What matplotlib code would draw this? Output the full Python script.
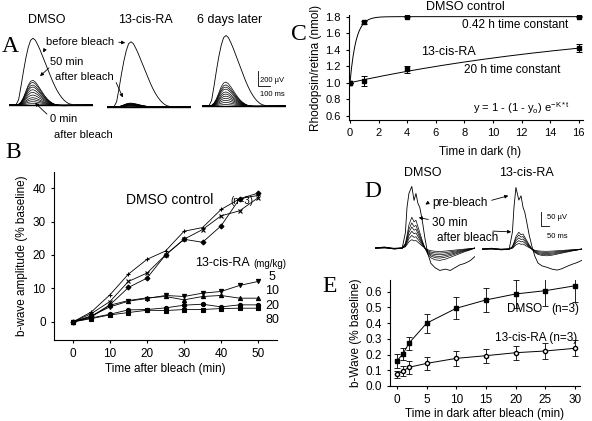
import numpy as np
import matplotlib.pyplot as plt
from matplotlib.patches import FancyArrowPatch

plt.rcParams['font.family'] = ['Liberation Sans', 'DejaVu Sans']
plt.rcParams['mathtext.fontset'] = 'custom'
plt.rcParams['mathtext.rm'] = 'Liberation Sans'
plt.rcParams['mathtext.it'] = 'Liberation Sans'
plt.rcParams['axes.linewidth'] = 0.8
plt.rcParams['xtick.major.width'] = 0.8
plt.rcParams['ytick.major.width'] = 0.8
plt.rcParams['xtick.major.size'] = 2.5
plt.rcParams['ytick.major.size'] = 2.5

W, H = 592, 421

# ---- panel A: ERG traces, time in ms, amplitude in uV
a_t = list(range(0, 701, 20))
a_before_shape = [0, 0, 0, 0.01, 0.08, 0.28, 0.50, 0.70, 0.86, 0.97,
                  1.00, 0.97, 0.90, 0.82, 0.73, 0.64, 0.55, 0.46, 0.37, 0.29,
                  0.22, 0.16, 0.11, 0.07, 0.04, 0.02, 0.01, 0, 0, 0,
                  0, 0, 0, 0, 0, 0]
a_bleach_shape = [0, 0, 0, 0, 0.03, 0.12, 0.30, 0.55, 0.80, 0.96,
                  1.0, 0.93, 0.80, 0.65, 0.50, 0.36, 0.24, 0.15, 0.08, 0.03,
                  0.0, -0.02, -0.03, -0.03, -0.03, -0.02, -0.02, -0.02, -0.01, -0.01,
                  -0.01, -0.01, 0, 0, 0, 0]
a_titles = ['DMSO', '13-cis-RA', '6 days later']
a_before_uv = [890, 870, 940]
a_dmso_pct = [2, 5, 8, 11, 15, 19, 23, 27, 30, 34, 37]
a_cis_pct = [1, 1.5, 2, 2.5, 3, 3.5, 4, 4.5, 5, 5.5, 6]
a_6d_pct = [2, 5, 8, 11, 14, 17, 20, 24, 27, 30, 34]

# ---- panel B: b-wave recovery after bleach
b_time = [0, 5, 10, 15, 20, 25, 30, 35, 40, 45, 50]
b_dmso_plus = [0, 3.0, 8.1, 14.3, 18.7, 21.2, 27.1, 28.2, 33.6, 36.8, 37.8]
b_dmso_x = [0, 2.5, 6.1, 12.1, 14.6, 20.0, 24.7, 27.6, 31.7, 33.2, 37.1]
b_dmso_dia = [0, 1.7, 5.1, 10.3, 13.1, 20.0, 24.7, 23.8, 28.7, 36.8, 38.5]
b_cis5 = [0, 1.8, 4.5, 6.2, 7.0, 7.9, 7.6, 8.6, 9.1, 10.9, 12.1]
b_cis10 = [0, 1.5, 5.0, 6.4, 7.2, 7.6, 6.6, 7.6, 7.9, 7.1, 7.1]
b_cis20 = [0, 1.2, 2.3, 3.6, 3.7, 4.2, 5.0, 5.3, 4.5, 5.1, 5.1]
b_cis80 = [0, 1.0, 2.1, 2.8, 3.5, 3.4, 3.7, 3.7, 4.0, 4.1, 4.1]
b_doses = ['5', '10', '20', '80']

# ---- panel C: rhodopsin regeneration in dark
c_time = [0, 1, 4, 16]
c_dmso = [1.0, 1.73, 1.80, 1.80]
c_dmso_err = [0, 0.015, 0.01, 0.01]
c_cis = [1.0, 1.02, 1.16, 1.42]
c_cis_err = [0, 0.06, 0.045, 0.05]
c_tau_h = [0.42, 20]
c_plateau = [1.80, 1.76]

# ---- panel D: ERG traces (time in ms, amplitude in uV)
d_t = [0, 60, 120, 170, 190, 200, 212, 230, 244, 256, 268, 280, 295,
       312, 330, 350, 375, 405, 440, 470, 500, 530, 560, 595, 625]
d_dmso_pre = [0, 4, -4, 0, 55, 145, 195, 220, 170, 195, 160, 145, 100,
              35, -20, -55, -70, -80, -75, -80, -70, -60, -55, -45, -30]
d_cis_pre = [0, 3, -3, 0, 60, 150, 220, 175, 190, 150, 130, 95, 50,
             10, -25, -50, -60, -65, -72, -75, -70, -62, -55, -48, -40]
d_bleach_shape = [0, 0.02, -0.02, 0, 0.15, 0.40, 0.75, 1.0, 0.85, 0.90, 0.70, 0.50, 0.25,
                  0, -0.2, -0.32, -0.38, -0.40, -0.36, -0.30, -0.24, -0.18, -0.12, -0.06, 0.0]
d_dmso_amp = [30, 45, 60, 75, 90, 110]
d_cis_amp = [20, 30, 40, 50, 60]

# ---- panel E: b-wave recovery (fraction of baseline)
e_time = [0, 1, 2, 5, 10, 15, 20, 25, 30]
e_dmso = [0.16, 0.204, 0.272, 0.40, 0.495, 0.548, 0.586, 0.607, 0.638]
e_dmso_err = [0.045, 0.04, 0.04, 0.06, 0.07, 0.075, 0.09, 0.10, 0.10]
e_cis = [0.074, 0.095, 0.119, 0.144, 0.176, 0.193, 0.212, 0.223, 0.24]
e_cis_err = [0.02, 0.03, 0.04, 0.04, 0.05, 0.045, 0.045, 0.05, 0.05]


def box(left, top, width, height):
    return [left / W, 1 - (top + height) / H, width / W, height / H]


def fpx(x, y):
    return (x / W, 1 - y / H)


fig = plt.figure(figsize=(W / 100, H / 100), dpi=100)


def label(x, y, s, size=8.5, **kw):
    fig.text(*fpx(x, y), s, fontsize=size, ha='center', va='center', **kw)


def arrow(x0, y0, x1, y1):
    fig.add_artist(FancyArrowPatch(fpx(x0, y0), fpx(x1, y1), transform=fig.transFigure,
                                   arrowstyle='-|>', mutation_scale=5, lw=0.6, color='k'))


def letter(x, y, s):
    fig.text(*fpx(x, y), s, fontsize=17, ha='center', va='center', family='Liberation Serif')


# ---- A
a_pct = [a_dmso_pct, a_cis_pct, a_6d_pct]
a_left = [9, 107, 202]
a_base = [105, 107, 106]
for i in range(3):
    ax = fig.add_axes(box(a_left[i], a_base[i] - 75, 84, 85))
    ax.set_xlim(0, 700)
    ax.set_ylim(-133, 1000)
    ax.axis('off')
    shape = np.array(a_before_shape)
    ax.plot(a_t, a_before_uv[i] * shape, color='k', lw=0.6)
    for p in a_pct[i]:
        ax.plot(a_t, a_before_uv[i] * p / 100 * np.array(a_bleach_shape), color='k', lw=0.5)
    ax.plot(a_t, np.zeros(len(a_t)), color='k', lw=1.0)
    if i == 2:
        ax.plot([470, 470, 570], [470, 270, 270], color='k', lw=0.6, clip_on=False)
    label(a_left[i] + 38 if i < 2 else 230, 20, a_titles[i], 9)

label(272, 80, '200 µV', 5.5)
label(272, 94, '100 ms', 5.5)
label(80, 42, 'before bleach', 8)
arrow(116, 42, 128, 43)
arrow(46, 47, 42, 55)
label(67, 62, '50 min', 8)
label(84, 77, 'after bleach', 8)
arrow(51, 66, 38, 78)
arrow(115, 80, 124, 100)
label(64, 119, '0 min', 8)
label(83, 135, 'after bleach', 8)
arrow(49, 116, 33, 101)

# ---- B
ax = fig.add_axes(box(54, 172, 223, 168))
for y, m, s in [(b_dmso_plus, '+', 3.5), (b_dmso_x, 'x', 3), (b_dmso_dia, 'D', 2.5),
                (b_cis5, 'v', 3), (b_cis10, '^', 3), (b_cis20, 'o', 3), (b_cis80, 's', 3)]:
    ax.plot(b_time, y, color='k', lw=0.6, marker=m, ms=s, mew=0.8)
ax.set_xlim(-5.1, 55.1)
ax.set_ylim(-5.4, 44.8)
ax.set_xticks(range(0, 51, 10))
ax.set_yticks(range(0, 41, 10))
ax.tick_params(labelsize=8.5)
for sp in ['top', 'right']:
    ax.spines[sp].set_visible(False)
ax.set_xlabel('Time after bleach (min)', fontsize=8.5, labelpad=2)
ax.set_ylabel('b-wave amplitude (% baseline)', fontsize=8.5, labelpad=3)
label(170, 200, 'DMSO control', 10)
label(242, 201, '(n=3)', 7)
label(222, 263, '13-cis-RA', 9)
label(270, 264, '(mg/kg)', 7)
for d, y in zip(b_doses, [277, 291, 306, 320]):
    label(272, y, d, 9)

# ---- C
ax = fig.add_axes(box(349, 15, 234, 105))
tt = np.linspace(0, 16, 300)
for vals, err, tau, top in [(c_dmso, c_dmso_err, c_tau_h[0], c_plateau[0]),
                            (c_cis, c_cis_err, c_tau_h[1], c_plateau[1])]:
    ax.plot(tt, top - (top - 1) * np.exp(-tt / tau), color='k', lw=0.7)
    ax.errorbar(c_time, vals, yerr=err, fmt='s', color='k', ms=3.5, capsize=2.5, elinewidth=0.7, capthick=0.7)
ax.set_xlim(-0.07, 16.3)
ax.set_ylim(0.548, 1.82)
ax.set_xticks(range(0, 17, 2))
ax.set_yticks([0.6, 0.8, 1.0, 1.2, 1.4, 1.6, 1.8])
ax.set_yticklabels(['0.6', '0.8', '1.0', '1.2', '1.4', '1.6', '1.8'])
ax.tick_params(labelsize=8)
for sp in ['top', 'right']:
    ax.spines[sp].set_visible(False)
ax.set_ylabel('Rhodopsin/retina (nmol)', fontsize=8.5, labelpad=2)
label(480, 152, 'Time in dark (h)', 8.5)
label(465, 7, 'DMSO control', 9)
label(515, 25, '0.42 h time constant', 8.5)
label(448, 52, '13-cis-RA', 9)
label(512, 70, '20 h time constant', 8.5)
label(522, 108, r'y = 1 - (1 - y$_\mathrm{o}$) e$^\mathrm{-K*t}$', 8)

# ---- D
for left, base, pre, amps in [(375, 248, d_dmso_pre, d_dmso_amp), (482, 249, d_cis_pre, d_cis_amp)]:
    ax = fig.add_axes(box(left, base - 68, 100, 100))
    ax.set_xlim(0, 625)
    ax.set_ylim(-114, 243)
    ax.axis('off')
    ax.plot(d_t, pre, color='k', lw=0.6)
    for a in amps:
        ax.plot(d_t, a * np.array(d_bleach_shape), color='k', lw=0.5)
    if left == 482:
        ax.plot([369, 369, 419], [132, 82, 82], color='k', lw=0.6, clip_on=False)
label(423, 173, 'DMSO', 9)
label(526, 173, '13-cis-RA', 9)
label(557, 218, '50 µV', 5.5)
label(557, 236, '50 ms', 5.5)
label(460, 203, 'pre-bleach', 8.5)
arrow(431, 201, 423, 206)
arrow(489, 201, 511, 195)
label(450, 223, '30 min', 8.5)
label(468, 238, 'after bleach', 8.5)
arrow(431, 220, 416, 217)
arrow(490, 231, 514, 232)

# ---- E
ax = fig.add_axes(box(390, 280, 190, 106))
ax.errorbar(e_time, e_dmso, yerr=e_dmso_err, fmt='-s', color='k', ms=2.5, lw=0.7,
            capsize=2, elinewidth=0.6, capthick=0.6)
ax.errorbar(e_time, e_cis, yerr=e_cis_err, fmt='-o', color='k', mfc='white', ms=3, lw=0.7,
            capsize=2, elinewidth=0.6, capthick=0.6)
ax.set_xlim(-1.18, 30.86)
ax.set_ylim(0, 0.675)
ax.set_xticks(range(0, 31, 5))
ax.set_yticks([0, 0.1, 0.2, 0.3, 0.4, 0.5, 0.6])
ax.set_yticklabels(['0.0', '0.1', '0.2', '0.3', '0.4', '0.5', '0.6'])
ax.tick_params(labelsize=8.5)
for sp in ['top', 'right']:
    ax.spines[sp].set_visible(False)
ax.set_xlabel('Time in dark after bleach (min)', fontsize=8.5, labelpad=1)
ax.set_ylabel('b-Wave (% baseline)', fontsize=8.5, labelpad=2)
label(525, 309, 'DMSO', 8.5)
label(565, 309, '(n=3)', 8.5)
label(536, 338, '13-cis-RA (n=3)', 8.5)

letter(10, 46, 'A')
letter(13, 153, 'B')
letter(299, 34, 'C')
letter(373, 192, 'D')
letter(330, 286, 'E')

fig.savefig('out.png', dpi=100)
